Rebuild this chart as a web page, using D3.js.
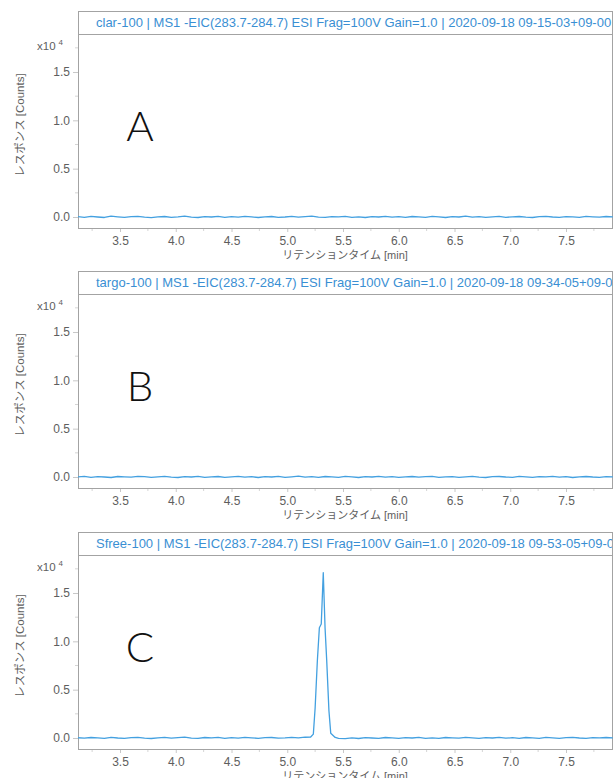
<!DOCTYPE html>
<html>
<head>
<meta charset="utf-8">
<script src="https://cdn.jsdelivr.net/npm/d3@7"></script>
<style>
  html, body { margin: 0; padding: 0; background: #fff; }
  svg { display: block; }
</style>
</head>
<body>
<svg id="chart" width="615" height="778"></svg>
<script>
// Retention-time grid shared by the flat traces (min)
const scanTimes = [
  3.12,3.18,3.24,3.30,3.36,3.42,3.48,3.54,3.60,3.66,
  3.72,3.78,3.84,3.90,3.96,4.02,4.08,4.14,4.20,4.26,
  4.32,4.38,4.44,4.50,4.56,4.62,4.68,4.74,4.80,4.86,
  4.92,4.98,5.04,5.10,5.16,5.22,5.28,5.34,5.40,5.46,
  5.52,5.58,5.64,5.70,5.76,5.82,5.88,5.94,6.00,6.06,
  6.12,6.18,6.24,6.30,6.36,6.42,6.48,6.54,6.60,6.66,
  6.72,6.78,6.84,6.90,6.96,7.02,7.08,7.14,7.20,7.26,
  7.32,7.38,7.44,7.50,7.56,7.62,7.68,7.74,7.80,7.86,
  7.92
];

// EIC responses, x10^4 counts
const clarCounts = [
  0.004,-0.003,0.006,0.000,-0.005,0.008,0.002,-0.004,0.003,0.007,
  -0.002,-0.006,0.001,0.005,-0.003,0.002,0.009,-0.001,-0.005,0.004,
  0.000,0.006,-0.004,0.003,-0.002,0.007,0.001,-0.005,0.002,0.005,
  -0.003,0.000,0.006,-0.002,0.004,0.008,-0.001,-0.004,0.003,0.001,
  0.006,-0.003,0.002,-0.005,0.004,0.000,0.007,-0.002,0.003,-0.004,
  0.005,0.001,-0.003,0.006,0.002,-0.005,0.003,0.000,0.008,-0.002,
  0.004,-0.004,0.001,0.006,-0.003,0.002,0.005,-0.001,-0.005,0.003,
  0.007,0.000,-0.003,0.004,0.001,-0.004,0.006,0.002,-0.002,0.005,
  0.001
];

const targoCounts = [
  0.002,0.006,-0.003,0.004,0.000,-0.005,0.005,0.001,-0.002,0.007,
  0.003,-0.004,0.002,0.006,-0.001,-0.005,0.004,0.000,0.006,-0.003,
  0.002,0.005,-0.004,0.001,0.007,-0.002,0.003,-0.005,0.004,0.000,
  0.006,-0.003,0.002,0.008,-0.001,0.003,-0.004,0.005,0.001,-0.003,
  0.006,0.002,-0.005,0.003,0.000,0.007,-0.002,0.004,-0.004,0.001,
  0.005,-0.002,0.003,0.006,-0.004,0.001,0.004,-0.003,0.002,0.007,
  -0.001,-0.005,0.003,0.005,0.000,-0.003,0.006,0.002,-0.004,0.004,
  0.001,0.006,-0.002,0.003,-0.005,0.002,0.005,0.000,-0.003,0.004,
  0.002
];

// Sfree trace: denser sampling through the elution window
const sfreeTimes = [
  3.12,3.18,3.24,3.30,3.36,3.42,3.48,3.54,3.60,3.66,
  3.72,3.78,3.84,3.90,3.96,4.02,4.08,4.14,4.20,4.26,
  4.32,4.38,4.44,4.50,4.56,4.62,4.68,4.74,4.80,4.86,
  4.92,4.98,5.04,5.10,5.16,5.21,5.234,5.25,5.27,5.288,
  5.305,5.323,5.339,5.354,5.374,5.39,5.43,5.46,
  5.52,5.58,5.64,5.70,5.76,5.82,5.88,5.94,6.00,6.06,
  6.12,6.18,6.24,6.30,6.36,6.42,6.48,6.54,6.60,6.66,
  6.72,6.78,6.84,6.90,6.96,7.02,7.08,7.14,7.20,7.26,
  7.32,7.38,7.44,7.50,7.56,7.62,7.68,7.74,7.80,7.86,
  7.92
];

const sfreeCounts = [
  0.003,-0.002,0.005,0.001,-0.004,0.006,0.000,-0.003,0.004,0.007,
  -0.001,-0.005,0.002,0.006,-0.002,0.003,0.008,-0.002,-0.004,0.005,
  0.001,0.006,-0.003,0.004,-0.002,0.006,0.002,-0.004,0.003,0.005,
  -0.002,0.001,0.006,0.002,0.008,0.010,0.04,0.31,0.80,1.14,
  1.18,1.71,1.14,0.80,0.28,0.05,0.006,-0.004,
  -0.006,0.002,-0.005,0.003,0.000,-0.004,0.005,0.001,-0.003,0.004,
  0.000,0.006,-0.003,0.002,-0.004,0.005,0.001,-0.002,0.007,0.002,
  -0.003,0.004,0.000,0.006,-0.002,0.003,-0.004,0.005,0.001,-0.003,
  0.006,0.002,-0.004,0.003,0.007,0.000,-0.003,0.004,0.001,0.005,
  0.002
];

const panelTitles = [
  "clar-100 | MS1 -EIC(283.7-284.7) ESI Frag=100V Gain=1.0 | 2020-09-18 09-15-03+09-00",
  "targo-100 | MS1 -EIC(283.7-284.7) ESI Frag=100V Gain=1.0 | 2020-09-18 09-34-05+09-00",
  "Sfree-100 | MS1 -EIC(283.7-284.7) ESI Frag=100V Gain=1.0 | 2020-09-18 09-53-05+09-00"
];
const panelLetters = ["A", "B", "C"];
const xTickValues = [3.5, 4.0, 4.5, 5.0, 5.5, 6.0, 6.5, 7.0, 7.5];
const yTickValues = [0.0, 0.5, 1.0, 1.5];
const xAxisTitle = "リテンションタイム [min]";
const yAxisTitle = "レスポンス [Counts]";

const series = [
  { t: scanTimes, v: clarCounts },
  { t: scanTimes, v: targoCounts },
  { t: sfreeTimes, v: sfreeCounts }
];

const panelOffsets = [0, 260, 521];
const left = 78, right = 613;
const boxTop = 11, plotTop = 34, plotBottom = 228;

const lineColor = "#43a0e0";
const titleColor = "#3a8fd3";
const frameColor = "#a3a3a3";
const tickText = "#5e5e5e";
const latin = "'Liberation Sans', Arial, sans-serif";
const cjk = "'Liberation Sans', 'Noto Sans CJK JP', sans-serif";

const x = d3.scaleLinear().domain([3.1233, 7.9215]).range([left, right]);
const y = d3.scaleLinear().domain([-0.1138, 1.8931]).range([plotBottom, plotTop]);

const svg = d3.select("#chart");
const defs = svg.append("defs");
defs.append("clipPath").attr("id", "plot-clip")
  .append("rect").attr("x", left).attr("y", plotTop)
  .attr("width", right - left).attr("height", plotBottom - plotTop);
defs.append("clipPath").attr("id", "title-clip")
  .append("rect").attr("x", left).attr("y", boxTop)
  .attr("width", right - left - 1).attr("height", plotTop - boxTop);

const line = d3.line().x(d => x(d[0])).y(d => y(d[1]));

// minor ticks every 0.25
const xMinor = [3.25, 3.75, 4.25, 4.75, 5.25, 5.75, 6.25, 6.75, 7.25, 7.75];
const yMinor = [0.25, 0.75, 1.25, 1.75];

panelOffsets.forEach((off, i) => {
  const g = svg.append("g").attr("transform", `translate(0,${off})`);

  // x axis
  const xAxis = g.append("g").attr("transform", `translate(0,${plotBottom})`)
    .call(d3.axisBottom(x).tickValues(xTickValues).tickFormat(d3.format(".1f")).tickSize(4).tickPadding(4));
  xAxis.select(".domain").remove();
  xAxis.selectAll(".tick line").attr("stroke", "#c8c8c8");
  xAxis.selectAll(".tick text").attr("fill", tickText)
    .style("font-family", latin).style("font-size", "12px");
  g.append("g").selectAll("line").data(xMinor).join("line")
    .attr("x1", d => x(d)).attr("x2", d => x(d))
    .attr("y1", plotBottom).attr("y2", plotBottom + 3)
    .attr("stroke", "#d5d5d5");

  // y axis
  const yAxis = g.append("g").attr("transform", `translate(${left},0)`)
    .call(d3.axisLeft(y).tickValues(yTickValues).tickFormat(d3.format(".1f")).tickSize(5).tickPadding(3));
  yAxis.select(".domain").remove();
  yAxis.selectAll(".tick line").attr("stroke", "#c8c8c8");
  yAxis.selectAll(".tick text").attr("fill", tickText)
    .style("font-family", latin).style("font-size", "12px");
  g.append("g").selectAll("line").data(yMinor).join("line")
    .attr("x1", left - 3).attr("x2", left)
    .attr("y1", d => y(d)).attr("y2", d => y(d))
    .attr("stroke", "#d5d5d5");

  // frame and title bar
  g.append("rect").attr("x", left + 0.5).attr("y", boxTop + 0.5)
    .attr("width", right - left - 1).attr("height", plotBottom - boxTop)
    .attr("fill", "none").attr("stroke", frameColor);
  g.append("line").attr("x1", left).attr("x2", right)
    .attr("y1", plotTop + 0.5).attr("y2", plotTop + 0.5)
    .attr("stroke", frameColor);
  g.append("text").attr("clip-path", "url(#title-clip)")
    .attr("x", 96).attr("y", 27)
    .attr("fill", titleColor)
    .style("font-family", latin).style("font-size", "13px")
    .text(panelTitles[i]);

  // exponent label
  const ex = g.append("text").attr("x", 37).attr("y", 50)
    .attr("fill", tickText).style("font-family", latin).style("font-size", "11.5px");
  ex.append("tspan").text("x10");
  ex.append("tspan").attr("dx", 3).attr("dy", -5).style("font-size", "8px").text("4");

  // y axis title
  g.append("text")
    .attr("transform", `translate(24,125) rotate(-90)`)
    .attr("text-anchor", "middle").attr("fill", tickText)
    .style("font-family", cjk).style("font-size", "11.5px")
    .text(yAxisTitle);

  // x axis title
  g.append("text").attr("x", 345).attr("y", 259)
    .attr("text-anchor", "middle").attr("fill", tickText)
    .style("font-family", cjk).style("font-size", "11px")
    .text(xAxisTitle);

  // panel letter
  g.append("text").attr("x", 140).attr("y", 141)
    .attr("text-anchor", "middle").attr("fill", "#111")
    .style("font-family", "Lato, 'Liberation Sans', sans-serif")
    .style("font-weight", 300).style("font-size", "42px")
    .text(panelLetters[i]);

  // trace
  const pts = series[i].t.map((t, k) => [t, series[i].v[k]]);
  g.append("path").datum(pts)
    .attr("clip-path", "url(#plot-clip)")
    .attr("fill", "none").attr("stroke", lineColor)
    .attr("stroke-width", 1.3).attr("stroke-linejoin", "round")
    .attr("d", line);
});
</script>
</body>
</html>
